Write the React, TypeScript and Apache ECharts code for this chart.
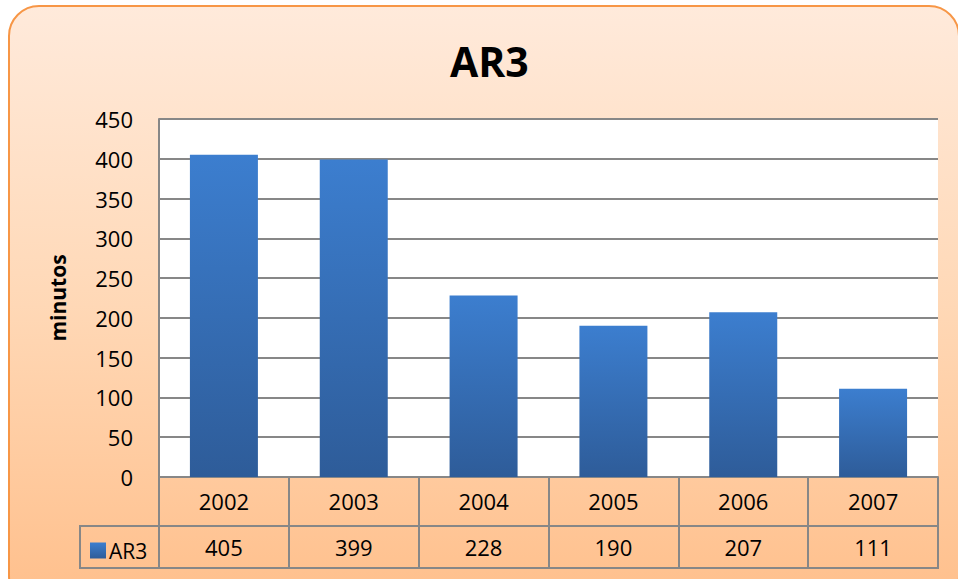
import React, { useEffect, useRef } from "react";
import * as echarts from "echarts";

const seriesName = "AR3";
const years = ["2002", "2003", "2004", "2005", "2006", "2007"];
const values = [405, 399, 228, 190, 207, 111];
const yMin = 0;
const yMax = 450;
const yStep = 50;

const FONT = "'Open Sans', 'Noto Sans', sans-serif";
const GRID = "#878787";

export default function App() {
  const ref = useRef<HTMLDivElement>(null);
  useEffect(() => {
    document.body.style.margin = "0";
    document.body.style.overflow = "hidden";
    if (!ref.current) return;
    const chart = echarts.init(ref.current, null, { renderer: "svg" });
    const barColor = new echarts.graphic.LinearGradient(0, 0, 0, 1, [
      { offset: 0, color: "#3C7ECF" },
      { offset: 1, color: "#2E5C99" },
    ]);
    chart.setOption({
      animation: false,
      backgroundColor: "transparent",
      graphic: [
        {
          type: "rect",
          z: -10,
          silent: true,
          shape: { x: 9, y: 6, width: 950, height: 600, r: 30 },
          style: {
            fill: new echarts.graphic.LinearGradient(0, 0, 0, 1, [
              { offset: 0, color: "#FFEADB" },
              { offset: 0.5, color: "#FFD8B6" },
              { offset: 1, color: "#FFBF8B" },
            ]),
            stroke: "#F79646",
            lineWidth: 2,
          },
        },
        {
          type: "rect",
          z: 5,
          silent: true,
          shape: { x: 80, y: 526, width: 79, height: 42 },
          style: { fill: "transparent", stroke: GRID, lineWidth: 2 },
        },
        {
          type: "line",
          z: 5,
          silent: true,
          shape: { x1: 80, y1: 568, x2: 939, y2: 568 },
          style: { stroke: GRID, lineWidth: 2 },
        },
      ],
      title: {
        text: "AR3",
        left: 445,
        top: 34,
        textStyle: {
          fontFamily: FONT,
          fontWeight: "bold",
          fontSize: 41,
          lineHeight: 44,
          color: "#000",
        },
      },
      legend: {
        left: 85,
        top: 535,
        itemWidth: 16,
        itemHeight: 16,
        itemGap: 4,
        icon: "rect",
        data: [seriesName],
        textStyle: { fontFamily: FONT, fontSize: 21, color: "#000", padding: [0, 0, 0, -2] },
      },
      grid: {
        left: 159,
        right: 20,
        top: 119,
        bottom: 102,
        show: true,
        backgroundColor: "#FFFFFF",
        borderWidth: 0,
      },
      xAxis: [
        {
          type: "category",
          data: years,
          position: "bottom",
          boundaryGap: true,
          axisLine: { show: true, lineStyle: { color: GRID, width: 2 } },
          axisTick: { show: true, length: 91, lineStyle: { color: GRID, width: 2 } },
          axisLabel: {
            fontFamily: FONT,
            fontSize: 22,
            lineHeight: 22,
            color: "#000",
            margin: 13,
          },
        },
        {
          type: "category",
          data: values.map((v) => String(v)),
          position: "bottom",
          offset: 49,
          boundaryGap: true,
          axisLine: { show: true, lineStyle: { color: GRID, width: 2 } },
          axisTick: { show: false },
          axisLabel: {
            fontFamily: FONT,
            fontSize: 22,
            lineHeight: 22,
            color: "#000",
            margin: 10,
          },
        },
      ],
      yAxis: {
        type: "value",
        min: yMin,
        max: yMax,
        interval: yStep,
        name: "minutos",
        nameLocation: "middle",
        nameRotate: 90,
        nameGap: 91,
        nameTextStyle: { fontFamily: FONT, fontWeight: "bold", fontSize: 21, color: "#000" },
        axisLine: { show: true, lineStyle: { color: GRID, width: 2 } },
        axisTick: { show: false },
        axisLabel: { fontFamily: FONT, fontSize: 22, color: "#000", margin: 26 },
        splitLine: { show: true, lineStyle: { color: GRID, width: 2 } },
      },
      series: [
        {
          name: seriesName,
          type: "bar",
          xAxisIndex: 0,
          data: values,
          barWidth: 68,
          itemStyle: { color: barColor },
        },
      ],
    });
    return () => chart.dispose();
  }, []);
  return <div ref={ref} style={{ width: 958, height: 579 }} />;
}
